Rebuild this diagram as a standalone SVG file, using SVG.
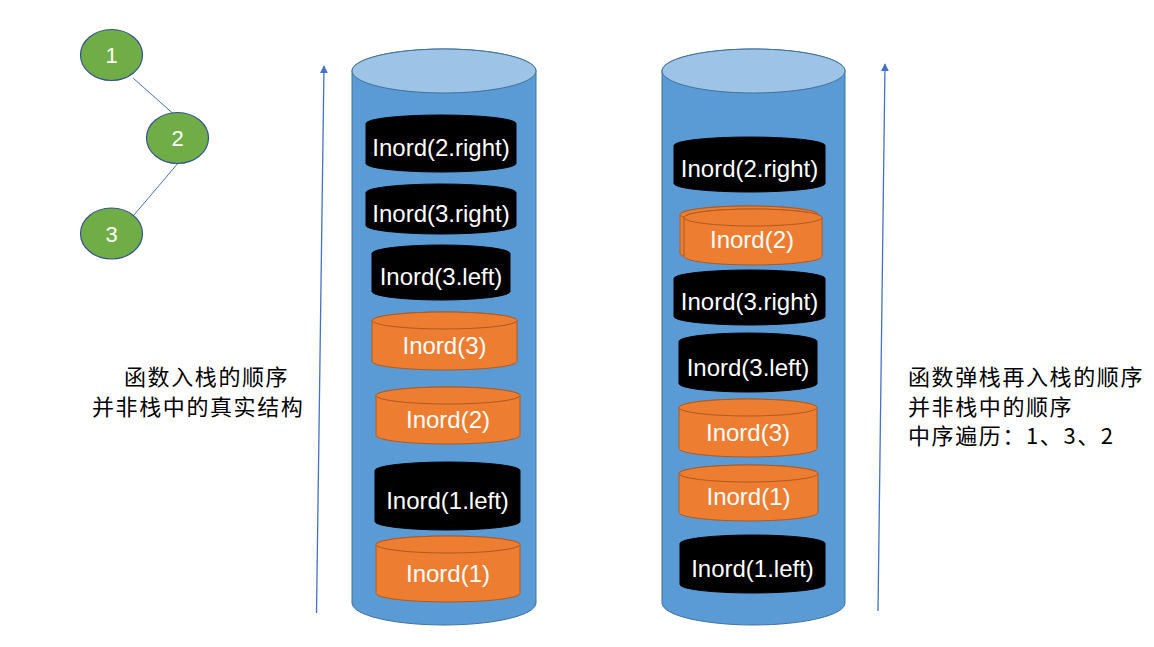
<svg xmlns="http://www.w3.org/2000/svg" width="1154" height="647" viewBox="0 0 1154 647">
<defs>
<marker id="arr" viewBox="0 0 10 10" refX="9" refY="5" markerWidth="8" markerHeight="8" markerUnits="userSpaceOnUse" orient="auto">
<path d="M0,0 L10,5 L0,10 Z" fill="#4472C4"/>
</marker>
</defs>
<style>
.bigbody{fill:#5B9BD5;stroke:#41719C;stroke-width:1}
.bigtop{fill:#9DC3E6;stroke:#41719C;stroke-width:1}
.blk{fill:#000;stroke:#000;stroke-width:1}
.org{fill:#ED7D31;stroke:#AE5A21;stroke-width:1}
.orgtop{fill:#ED7D31;stroke:#AE5A21;stroke-width:1}
.lbl{font-family:"Liberation Sans",Arial,sans-serif;font-size:24px;fill:#fff;text-anchor:middle}
.tnode{fill:#70AD47;stroke:#2F528F;stroke-width:1.2}
.tlbl{font-family:"Liberation Sans",Arial,sans-serif;font-size:22px;fill:#fff;text-anchor:middle}
.edge{stroke:#4472C4;stroke-width:1;fill:none}
.arrow{stroke:#4472C4;stroke-width:1.3;fill:none;marker-end:url(#arr)}
.note{font-family:"Noto Sans CJK SC","Liberation Sans",sans-serif;font-size:22px;letter-spacing:1.6px;fill:#000}
</style>
<rect width="1154" height="647" fill="#fff"/>

<g id="connectors">
<line class="edge" x1="133.3" y1="78.3" x2="177.3" y2="117.3"/>
<line class="edge" x1="177.3" y1="164" x2="134" y2="215"/>
<line class="arrow" x1="316.5" y1="613" x2="324" y2="66"/>
<line class="arrow" x1="878" y1="611" x2="885" y2="64"/>
</g>

<g id="tree-node-1">
<ellipse class="tnode" cx="111.5" cy="55" rx="31" ry="25.5"/>
<text class="tlbl" x="111.5" y="63">1</text>
</g>
<g id="tree-node-2">
<ellipse class="tnode" cx="177.5" cy="138" rx="31" ry="25.5"/>
<text class="tlbl" x="177.5" y="146">2</text>
</g>
<g id="tree-node-3">
<ellipse class="tnode" cx="111.5" cy="233.5" rx="31" ry="25.5"/>
<text class="tlbl" x="111.5" y="241.5">3</text>
</g>

<g id="stack-left">
<path class="bigbody" d="M352,71 V603 A92,22 0 0 0 536,603 V71 A92,22 0 0 0 352,71 Z"/>
<ellipse class="bigtop" cx="444" cy="71" rx="92" ry="22"/>
</g>
<g id="stack-right">
<path class="bigbody" d="M662,71 V603 A91.5,22 0 0 0 845,603 V71 A91.5,22 0 0 0 662,71 Z"/>
<ellipse class="bigtop" cx="753.5" cy="71" rx="91.5" ry="22"/>
</g>

<g id="L-inord-2-right">
<path class="blk" d="M366,123.5 A75,8.5 0 0 1 516,123.5 V163.5 A75,8.5 0 0 1 366,163.5 Z"/>
<text class="lbl" x="441" y="156">Inord(2.right)</text>
</g>
<g id="L-inord-3-right">
<path class="blk" d="M366,192.5 A75,8.5 0 0 1 516,192.5 V225.5 A75,8.5 0 0 1 366,225.5 Z"/>
<text class="lbl" x="441" y="221.5">Inord(3.right)</text>
</g>
<g id="L-inord-3-left">
<path class="blk" d="M372,253.5 A69,8.5 0 0 1 510,253.5 V291.5 A69,8.5 0 0 1 372,291.5 Z"/>
<text class="lbl" x="441" y="285">Inord(3.left)</text>
</g>
<g id="L-inord-3">
<path class="org" d="M372,320.5 A72.5,8.5 0 0 1 517,320.5 V361.5 A72.5,8.5 0 0 1 372,361.5 Z"/>
<ellipse class="orgtop" cx="444.5" cy="320.5" rx="72.5" ry="8.5"/>
<text class="lbl" x="444.5" y="353.5">Inord(3)</text>
</g>
<g id="L-inord-2">
<path class="org" d="M376,395.5 A72,8.5 0 0 1 520,395.5 V435.5 A72,8.5 0 0 1 376,435.5 Z"/>
<ellipse class="orgtop" cx="448" cy="395.5" rx="72" ry="8.5"/>
<text class="lbl" x="448" y="428">Inord(2)</text>
</g>
<g id="L-inord-1-left">
<path class="blk" d="M375,470.5 A72.5,8.5 0 0 1 520,470.5 V521.5 A72.5,8.5 0 0 1 375,521.5 Z"/>
<text class="lbl" x="447.5" y="508.5">Inord(1.left)</text>
</g>
<g id="L-inord-1">
<path class="org" d="M376,544.5 A72,8.5 0 0 1 520,544.5 V593.5 A72,8.5 0 0 1 376,593.5 Z"/>
<ellipse class="orgtop" cx="448" cy="544.5" rx="72" ry="8.5"/>
<text class="lbl" x="448" y="582">Inord(1)</text>
</g>

<g id="R-inord-2-right">
<path class="blk" d="M674,145.5 A75.5,8.5 0 0 1 825,145.5 V183.5 A75.5,8.5 0 0 1 674,183.5 Z"/>
<text class="lbl" x="749.5" y="177">Inord(2.right)</text>
</g>
<g id="R-inord-2">
<path class="org" d="M680,214.5 A69,8.5 0 0 1 818,214.5 V253.5 A69,8.5 0 0 1 680,253.5 Z"/>
<ellipse class="orgtop" cx="749" cy="214.5" rx="69" ry="8.5"/>
<path class="org" d="M684,217.5 A69,8.5 0 0 1 822,217.5 V256.5 A69,8.5 0 0 1 684,256.5 Z"/>
<ellipse class="orgtop" cx="753" cy="217.5" rx="69" ry="8.5"/>
<text class="lbl" x="752" y="248">Inord(2)</text>
</g>
<g id="R-inord-3-right">
<path class="blk" d="M674,278.5 A75.5,8.5 0 0 1 825,278.5 V316.5 A75.5,8.5 0 0 1 674,316.5 Z"/>
<text class="lbl" x="749.5" y="310">Inord(3.right)</text>
</g>
<g id="R-inord-3-left">
<path class="blk" d="M679,341.5 A69,8.5 0 0 1 817,341.5 V383.5 A69,8.5 0 0 1 679,383.5 Z"/>
<text class="lbl" x="748" y="376">Inord(3.left)</text>
</g>
<g id="R-inord-3">
<path class="org" d="M679,407.5 A69,8.5 0 0 1 817,407.5 V448.5 A69,8.5 0 0 1 679,448.5 Z"/>
<ellipse class="orgtop" cx="748" cy="407.5" rx="69" ry="8.5"/>
<text class="lbl" x="748" y="440.5">Inord(3)</text>
</g>
<g id="R-inord-1">
<path class="org" d="M679,473.5 A69.5,8.5 0 0 1 818,473.5 V512.5 A69.5,8.5 0 0 1 679,512.5 Z"/>
<ellipse class="orgtop" cx="748.5" cy="473.5" rx="69.5" ry="8.5"/>
<text class="lbl" x="748.5" y="505">Inord(1)</text>
</g>
<g id="R-inord-1-left">
<path class="blk" d="M680,543.5 A72.5,8.5 0 0 1 825,543.5 V584.5 A72.5,8.5 0 0 1 680,584.5 Z"/>
<text class="lbl" x="752.5" y="576.5">Inord(1.left)</text>
</g>

<g id="note-left">
<text class="note" x="124" y="384.5">函数入栈的顺序</text>
<text class="note" x="92" y="414.5">并非栈中的真实结构</text>
</g>
<g id="note-right">
<text class="note" x="908" y="384.5">函数弹栈再入栈的顺序</text>
<text class="note" x="908" y="414.5">并非栈中的顺序</text>
<text class="note" x="908" y="444">中序遍历：1、3、2</text>
</g>
</svg>
